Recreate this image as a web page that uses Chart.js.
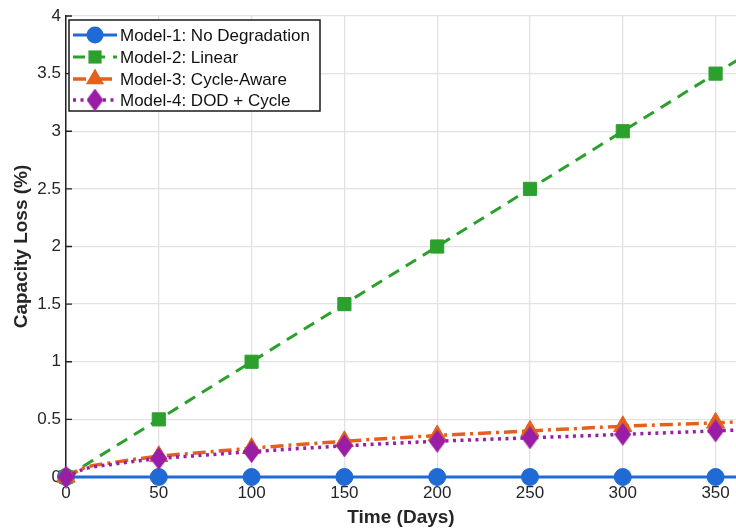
<!DOCTYPE html>
<html><head><meta charset="utf-8">
<script src="https://cdn.jsdelivr.net/npm/chart.js@4/dist/chart.umd.min.js"></script>
<style>html,body{margin:0;padding:0;background:#fff;overflow:hidden}#wrap{width:736px;height:529px;position:relative;overflow:hidden}</style>
</head><body><div id="wrap"><canvas id="c" width="736" height="529"></canvas></div>
<script>
// ---- data ----
const seriesNames = ['Model-1: No Degradation','Model-2: Linear','Model-3: Cycle-Aware','Model-4: DOD + Cycle'];
const days = [0,10,25,50,75,100,150,200,250,300,350,365];
const markerDays = [0,50,100,150,200,250,300,350];
const model1 = [0,0,0,0,0,0,0,0,0,0,0,0];
const model2 = [0,0.1,0.25,0.5,0.75,1.0,1.5,2.0,2.5,3.0,3.5,3.65];
const model3 = [0,0.08,0.125,0.18,0.215,0.25,0.31,0.36,0.40,0.44,0.47,0.48];
const model4 = [0,0.07,0.11,0.16,0.19,0.22,0.27,0.31,0.34,0.37,0.40,0.41];
const xTickStep = 50;
const yTicks = [0,0.5,1,1.5,2,2.5,3,3.5,4];
const yTickLabels = ['0','0.5','1','1.5','2','2.5','3','3.5','4'];

const FONT = '"Liberation Sans", Arial, Helvetica, sans-serif';
const colors = ['#1f6ad4','#2ca02c','#e3611c','#9a1ea5'];

function diamondImg(color){
  const w=17,h=23,c=document.createElement('canvas');c.width=w;c.height=h;
  const g=c.getContext('2d');g.fillStyle=color;g.beginPath();
  g.moveTo(w/2,0);g.lineTo(w,h/2);g.lineTo(w/2,h);g.lineTo(0,h/2);g.closePath();g.fill();
  return c;
}
const diamond = diamondImg(colors[3]);

const styles = [
  {dash:[],width:3,point:'circle',r:8.5},
  {dash:[12,8],width:3,point:'rect',r:9.3},
  {dash:[13,5,3,5],width:3.5,point:'triangle',r:10.5},
  {dash:[3,4.5],width:3.5,point:diamond,r:10}
];
const values=[model1,model2,model3,model4];
const datasets = values.map((v,i)=>({
  label: seriesNames[i],
  data: days.map((d,j)=>({x:d,y:v[j]})),
  borderColor: colors[i], backgroundColor: colors[i],
  borderWidth: styles[i].width, borderDash: styles[i].dash,
  pointStyle: styles[i].point,
  pointRadius: ctx => (ctx.raw && markerDays.includes(ctx.raw.x)) ? styles[i].r : 0,
  pointHoverRadius: 0,
  pointBorderWidth: 1,
  cubicInterpolationMode: 'monotone',
  clip: false,
  order: 4-i
}));

const inwardTicks = {
  id:'inwardTicks',
  beforeDatasetsDraw(chart){
    const {ctx, chartArea:a, scales:{x,y}} = chart;
    ctx.save();ctx.strokeStyle='#222';ctx.lineWidth=1.3;ctx.beginPath();
    yTicks.forEach(t=>{const py=y.getPixelForValue(t);ctx.moveTo(a.left,py);ctx.lineTo(a.left+6,py);});
    markerDays.forEach(t=>{const px=x.getPixelForValue(t);ctx.moveTo(px,a.bottom);ctx.lineTo(px,a.bottom-6);});
    ctx.stroke();ctx.restore();
  }
};

const legendBox = {
  id:'legendBox',
  afterDraw(chart){
    const ctx=chart.ctx;
    const bx=69,by=20,bw=251,bh=91;
    ctx.save();
    ctx.fillStyle='#fff';ctx.fillRect(bx,by,bw,bh);
    ctx.strokeStyle='#1a1a1a';ctx.lineWidth=1.5;ctx.strokeRect(bx,by,bw,bh);
    const rows=[35,57,79,100];
    rows.forEach((ry,i)=>{
      const c=colors[i],s=styles[i];
      ctx.strokeStyle=c;ctx.lineWidth=s.width;ctx.setLineDash(s.dash);
      ctx.beginPath();ctx.moveTo(73,ry);ctx.lineTo(117,ry);ctx.stroke();
      ctx.setLineDash([]);
      ctx.fillStyle=c;
      const mx=95;
      if(i===0){ctx.beginPath();ctx.arc(mx,ry,s.r,0,Math.PI*2);ctx.fill();}
      else if(i===1){const h=s.r*Math.SQRT1_2;ctx.fillRect(mx-h,ry-h,2*h,2*h);}
      else if(i===2){const r=s.r;ctx.beginPath();ctx.moveTo(mx,ry-r);ctx.lineTo(mx+r*0.866,ry+r/2);ctx.lineTo(mx-r*0.866,ry+r/2);ctx.closePath();ctx.fill();}
      else {ctx.drawImage(diamond,mx-diamond.width/2,ry-diamond.height/2);}
      ctx.fillStyle='#111';ctx.font='17px '+FONT;ctx.textBaseline='middle';ctx.textAlign='left';
      ctx.fillText(seriesNames[i],120,ry+1);
    });
    ctx.restore();
  }
};

new Chart(document.getElementById('c'),{
  type:'line',
  data:{datasets},
  options:{
    responsive:false, animation:false, devicePixelRatio:1,
    layout:{autoPadding:false,padding:{top:16,right:0,left:0,bottom:0}},
    plugins:{legend:{display:false},tooltip:{enabled:false}},
    scales:{
      x:{type:'linear',min:0,max:361,
        ticks:{stepSize:xTickStep,includeBounds:false,color:'#262626',font:{family:FONT,size:17},padding:6,maxRotation:0},
        grid:{color:'#e2e2e2',lineWidth:1.3,drawTicks:false},
        border:{display:true,color:'#222',width:1.5},
        title:{display:true,text:'Time (Days)',color:'#262626',font:{family:FONT,size:19,weight:'bold'},padding:{top:0,bottom:0}},
        afterFit(s){s.height=52;s.paddingLeft=0;s.paddingRight=0;}
      },
      y:{type:'linear',min:0,max:4,
        afterBuildTicks(s){s.ticks=yTicks.map(v=>({value:v}));},
        ticks:{color:'#262626',font:{family:FONT,size:17},padding:5,
          callback:(v,idx)=>yTickLabels[idx]},
        grid:{color:'#e2e2e2',lineWidth:1.3,drawTicks:false},
        border:{display:true,color:'#222',width:1.5},
        title:{display:true,text:'Capacity Loss (%)',color:'#262626',font:{family:FONT,size:19,weight:'bold'},padding:{top:10,bottom:0}},
        afterFit(s){s.width=66;s.paddingTop=0;s.paddingBottom=0;}
      }
    }
  },
  plugins:[inwardTicks,legendBox]
});
</script></body></html>
